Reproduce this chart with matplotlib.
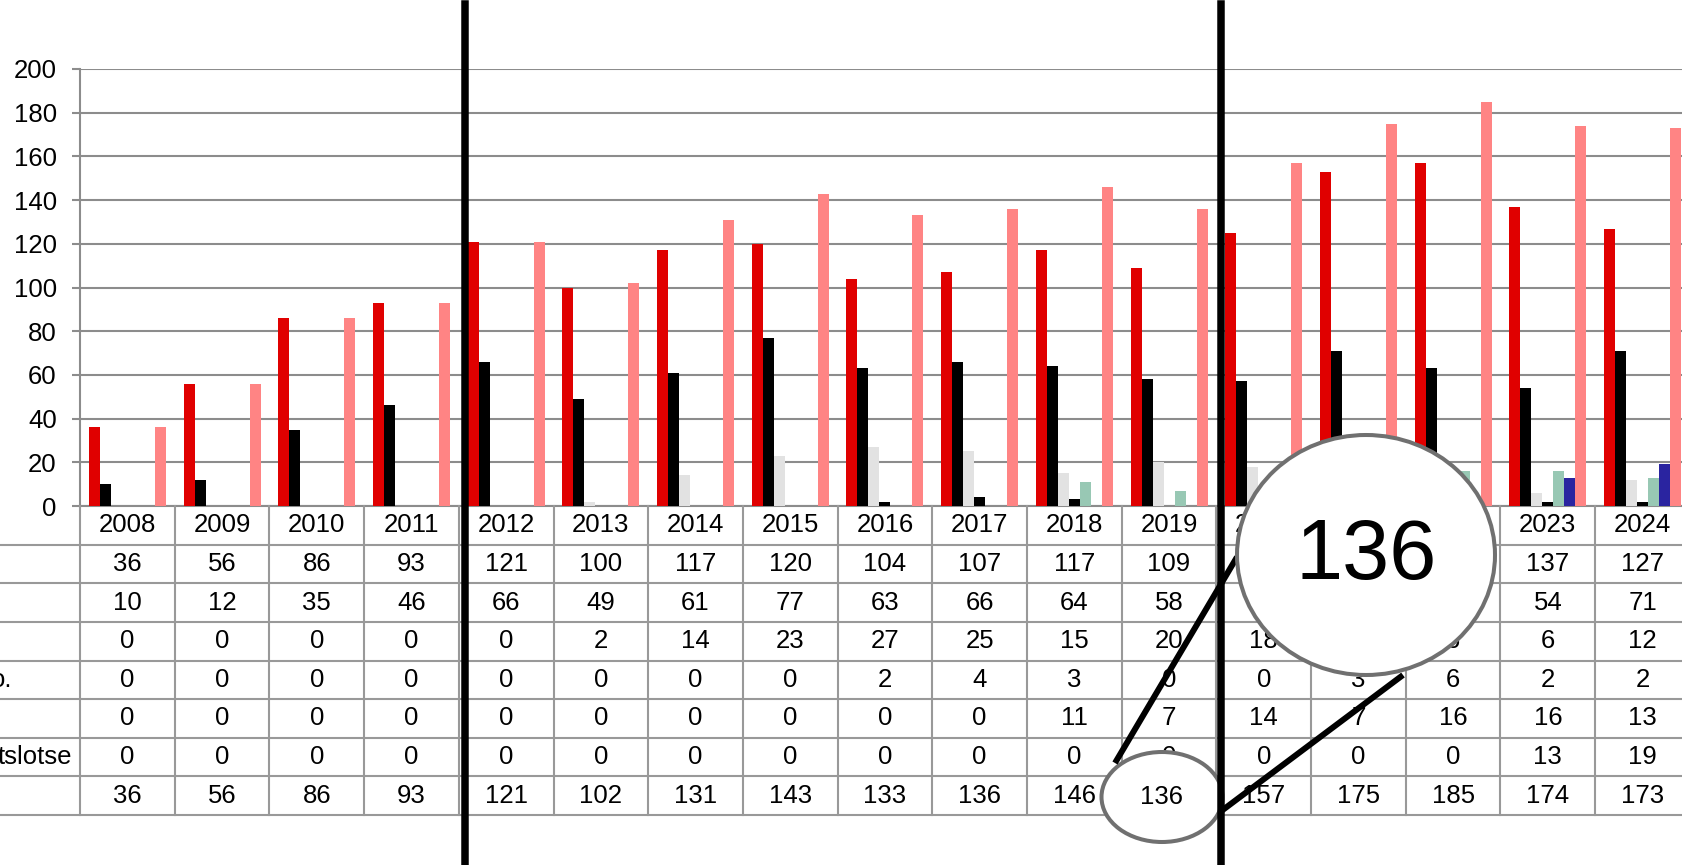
import matplotlib
matplotlib.use("Agg")
import matplotlib.pyplot as plt
from matplotlib.patches import Ellipse
from matplotlib.lines import Line2D

plt.rcParams['font.family'] = ['Liberation Sans', 'DejaVu Sans']

years = ['2008', '2009', '2010', '2011', '2012', '2013', '2014', '2015', '2016',
         '2017', '2018', '2019', '2020', '2021', '2022', '2023', '2024']
row1 = [36, 56, 86, 93, 121, 100, 117, 120, 104, 107, 117, 109, 125, 153, 157, 137, 127]
row2 = [10, 12, 35, 46, 66, 49, 61, 77, 63, 66, 64, 58, 57, 71, 63, 54, 71]
row3 = [0, 0, 0, 0, 0, 2, 14, 23, 27, 25, 15, 20, 18, 12, 6, 6, 12]
row4 = [0, 0, 0, 0, 0, 0, 0, 0, 2, 4, 3, 0, 0, 3, 6, 2, 2]
row5 = [0, 0, 0, 0, 0, 0, 0, 0, 0, 0, 11, 7, 14, 7, 16, 16, 13]
row6 = [0, 0, 0, 0, 0, 0, 0, 0, 0, 0, 0, 0, 0, 0, 0, 13, 19]
total = [36, 56, 86, 93, 121, 102, 131, 143, 133, 136, 146, 136, 157, 175, 185, 174, 173]
row_labels = ['', '', '', 'o.', '', 'tslotse', '']
callout_value = '136'

series = [row1, row2, row3, row4, row5, row6, total]
colors = ['#E00000', '#000000', '#E2E2E2', '#000000', '#98C8B4', '#2A24A0', '#FF8484']

W, H = 1683, 865
x0 = 80          # left edge of plot area (px)
col_w = 94.7     # width of one year column (px)
y_top, y_zero, y_tab = 69, 506, 815
n = len(years)
grid_c = '#8C8C8C'
fs = 18.5

fig = plt.figure(figsize=(W / 100, H / 100), dpi=100)

# bar chart
ax = fig.add_axes([x0 / W, (H - y_zero) / H, n * col_w / W, (y_zero - y_top) / H])
bw = 11 / col_w
for k, (vals, c) in enumerate(zip(series, colors)):
    xs = [i + (k - 3) * bw for i in range(n)]
    ax.bar(xs, vals, width=bw, color=c, zorder=3)
ax.set_xlim(-0.5, n - 0.5)
ax.set_ylim(0, 200)
ax.set_yticks(range(0, 201, 20))
ax.set_xticks([])
ax.yaxis.grid(True, color=grid_c, linewidth=1.5, zorder=0)
ax.tick_params(axis='y', length=5.8, width=1.5, color=grid_c, pad=11, labelsize=fs)
for s in ['top', 'right']:
    ax.spines[s].set_visible(False)
for s in ['left', 'bottom']:
    ax.spines[s].set_color(grid_c)
    ax.spines[s].set_linewidth(1.5)

# data table below
tab = fig.add_axes([0, (H - y_tab) / H, (x0 + n * col_w) / W, (y_tab - y_zero) / H])
xmin = -0.5 - x0 / col_w
tab.set_xlim(xmin, n - 0.5)
tab.set_ylim(8, 0)
tab.axis('off')
tc = '#999999'
for r in range(1, 9):
    tab.plot([xmin, n - 0.5], [r, r], color=tc, lw=1.5, clip_on=False)
for i in range(n + 1):
    tab.plot([i - 0.5, i - 0.5], [0, 8], color=tc, lw=1.5, clip_on=False)
for i, y in enumerate(years):
    tab.text(i, 0.5, y, ha='center', va='center', fontsize=fs)
for r, vals in enumerate(series):
    for i, v in enumerate(vals):
        tab.text(i, r + 1.5, str(v), ha='center', va='center', fontsize=fs)
label_right = {3: 12, 5: 72}
for r, lab in enumerate(row_labels):
    if lab:
        tab.text(xmin + label_right[r] / col_w, r + 1.5, lab, ha='right', va='center', fontsize=fs)


def fx(x):
    return x / W


def fy(y):
    return 1 - y / H


# callout annotations
fig.patches.append(Ellipse((fx(1162), fy(797)), 121 / W, 90 / H, transform=fig.transFigure,
                           facecolor='white', edgecolor='#707070', linewidth=2.9, zorder=5))
for xv in [465.5, 1221.5]:
    fig.lines.append(Line2D([fx(xv), fx(xv)], [fy(4), fy(H)], transform=fig.transFigure,
                            color='black', linewidth=5.4, zorder=6))
fig.lines.append(Line2D([fx(1115), fx(1237)], [fy(763), fy(557)], transform=fig.transFigure,
                        color='black', linewidth=4.3, zorder=6, solid_capstyle='butt'))
fig.lines.append(Line2D([fx(1220), fx(1403)], [fy(812), fy(675)], transform=fig.transFigure,
                        color='black', linewidth=4.3, zorder=6, solid_capstyle='butt'))
fig.patches.append(Ellipse((fx(1366), fy(555)), 258 / W, 240 / H, transform=fig.transFigure,
                           facecolor='white', edgecolor='#707070', linewidth=2.9, zorder=7))
fig.text(fx(1162), fy(797), callout_value, ha='center', va='center', fontsize=fs, zorder=8)
fig.text(fx(1366), fy(557), callout_value, ha='center', va='center', fontsize=61, zorder=8)

fig.savefig('out.png', dpi=100)
